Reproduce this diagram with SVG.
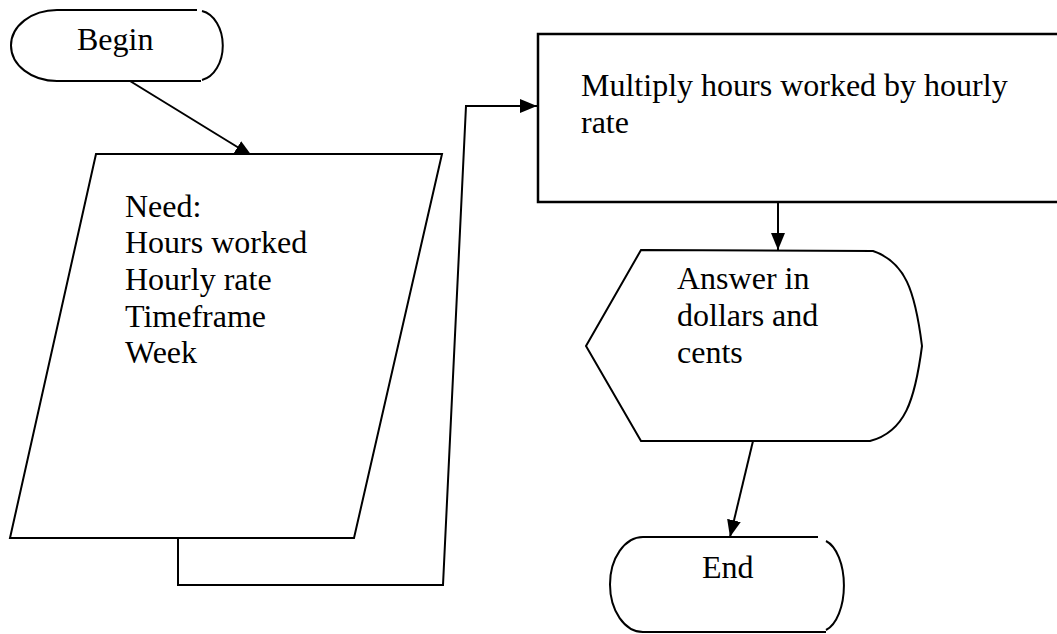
<svg xmlns="http://www.w3.org/2000/svg" width="1057" height="634" viewBox="0 0 1057 634">
  <style>
    .shape { fill: #ffffff; stroke: #000000; stroke-width: 2; }
    .fillonly { fill: #ffffff; stroke: none; }
    .edge { fill: none; stroke: #000000; stroke-width: 2; }
    text { font-family: 'Liberation Serif', 'DejaVu Serif', serif; font-size: 32px; fill: #000000; }
  </style>
  <defs>
    <marker id="arrow" markerUnits="userSpaceOnUse" markerWidth="17" markerHeight="14" refX="17" refY="7" orient="auto">
      <path d="M0,0 L17,7 L0,14 z" fill="#000000"/>
    </marker>
  </defs>

  <g id="connectors">
    <line class="edge" x1="130" y1="81" x2="252" y2="156" marker-end="url(#arrow)"/>
    <polyline class="edge" points="178,538 178,585 443,585 466,106 537,106" marker-end="url(#arrow)"/>
    <line class="edge" x1="778" y1="202" x2="778" y2="250" marker-end="url(#arrow)"/>
    <line class="edge" x1="753" y1="441" x2="730" y2="537" marker-end="url(#arrow)"/>
  </g>

  <g id="begin">
    <path class="fillonly" d="M57,10 L199,10 A26,35.5 0 0 1 201,81 L57,81 A46,35.5 0 0 1 57,10 Z"/>
    <path class="edge" d="M57,10 L197,10"/>
    <path class="edge" d="M57,81 L201,81"/>
    <path class="edge" d="M57,10 A46,35.5 0 0 0 57,81"/>
    <path class="edge" d="M202,11 A25,35 0 0 1 202,80"/>
    <text x="77" y="50" font-family="Liberation Serif, serif">Begin</text>
  </g>

  <g id="need">
    <polygon class="shape" points="96,154 442,154 354,538 10,538"/>
    <text x="125" y="217">Need:</text>
    <text x="125" y="253">Hours worked</text>
    <text x="125" y="290">Hourly rate</text>
    <text x="125" y="327">Timeframe</text>
    <text x="125" y="363">Week</text>
  </g>

  <g id="multiply">
    <rect class="shape" x="538" y="34" width="525" height="168" style="stroke-width:2.5"/>
    <text x="581" y="96">Multiply hours worked by hourly</text>
    <text x="581" y="133">rate</text>
  </g>

  <g id="answer">
    <path class="shape" d="M641,250 L873,251 C905,262 915,290 922,346 C915,400 905,432 870,441 L641,441 L586,346 Z"/>
    <text x="677" y="289">Answer in</text>
    <text x="677" y="326">dollars and</text>
    <text x="677" y="363">cents</text>
  </g>

  <g id="end">
    <path class="fillonly" d="M643,537 L822,537 A24,48 0 0 1 826,632 L643,632 A33,47.5 0 0 1 643,537 Z"/>
    <path class="edge" d="M643,537 L818,537"/>
    <path class="edge" d="M643,632 L826,632"/>
    <path class="edge" d="M643,537 A33,47.5 0 0 0 643,632"/>
    <path class="edge" d="M826,541 A24,46 0 0 1 826,630"/>
    <text x="702" y="578">End</text>
  </g>
</svg>
